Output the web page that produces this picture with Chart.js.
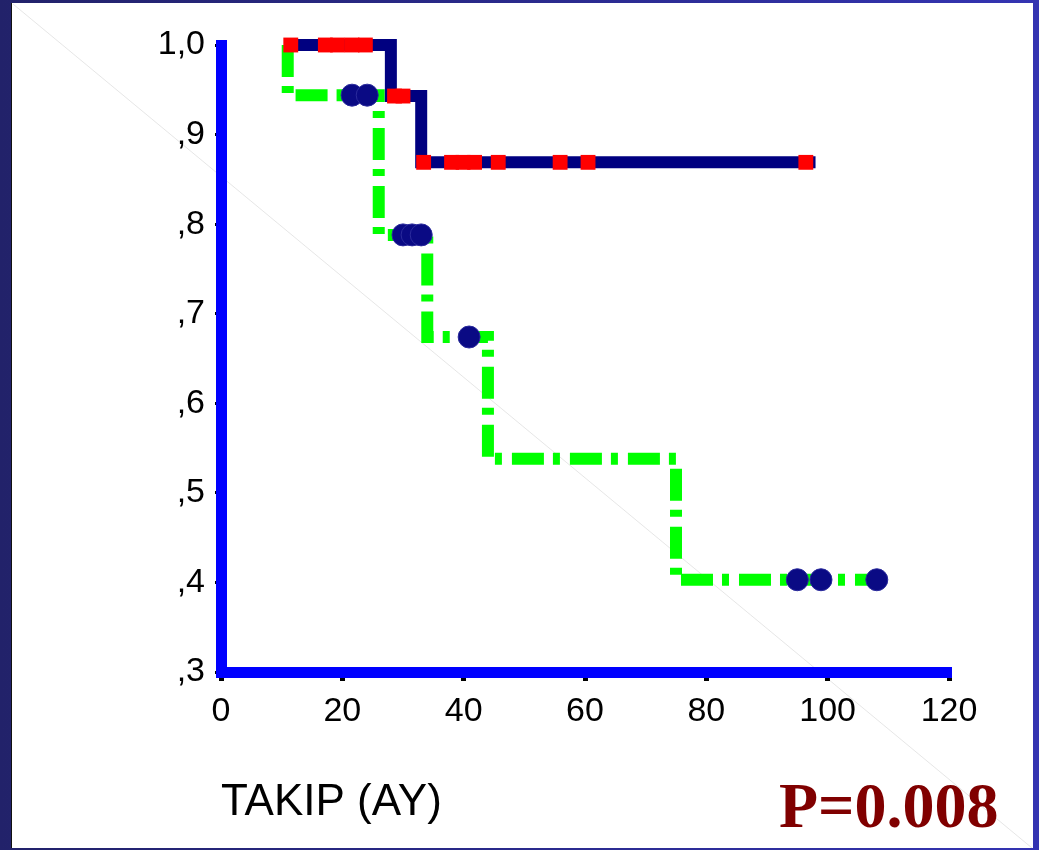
<!DOCTYPE html>
<html lang="tr">
<head>
<meta charset="UTF-8">
<title>Takip (Ay)</title>
<script src="https://cdn.jsdelivr.net/npm/chart.js"></script>
<style>
    body {
        margin: 0;
        width: 1039px;
        height: 850px;
        overflow: hidden;
        background: linear-gradient(to right, #22226a, #2a2a8c 50%, #3434b2);
    }
    .panel {
        position: absolute;
        left: 11px;
        top: 3px;
        width: 1021px;
        height: 845px;
        background: #ffffff;
        border-left: 1px solid #111;
    }
    canvas {
        position: absolute;
        left: 0;
        top: 0;
    }
</style>
</head>
<body>
<div class="panel"></div>
<canvas id="kmCanvas" width="1039" height="850"></canvas>

<script>
    // grup 1 (lacivert çizgi, kırmızı kare = sansürlü)
    const g1Times = [11, 28, 33, 98];
    const g1Surv = [1.0, 0.943, 0.869, 0.869];
    const g1CensTimes = [11.5, 17.2, 19.2, 21.6, 23.8, 28.6, 30.0, 33.4, 38.0, 39.9, 41.8, 45.7, 55.9, 60.5, 96.4];
    const g1CensSurv = [1.0, 1.0, 1.0, 1.0, 1.0, 0.943, 0.943, 0.869, 0.869, 0.869, 0.869, 0.869, 0.869, 0.869, 0.869];

    // grup 2 (yeşil kesikli çizgi, lacivert daire = sansürlü)
    const g2Times = [11, 11, 26, 34, 44, 75, 108];
    const g2Surv = [1.0, 0.944, 0.788, 0.674, 0.538, 0.403, 0.403];
    const g2CensTimes = [21.6, 24.1, 30.0, 31.5, 33.0, 40.9, 95.0, 98.9, 108.1];
    const g2CensSurv = [0.944, 0.944, 0.788, 0.788, 0.788, 0.674, 0.403, 0.403, 0.403];

    const xTickLabels = ["0", "20", "40", "60", "80", "100", "120"];
    const yTickLabels = [",3", ",4", ",5", ",6", ",7", ",8", ",9", "1,0"];
    const xAxisTitle = "TAKIP (AY)";
    const pValueText = "P=0.008";

    const ctx = document.getElementById("kmCanvas").getContext("2d");
    const sansFont = "'Liberation Sans', Arial, sans-serif";

    function toPoints(xs, ys) {
        return xs.map((x, i) => ({ x: x, y: ys[i] }));
    }

    const extras = {
        id: "extras",
        beforeDraw(chart) {
            const c = chart.ctx;
            c.save();
            c.strokeStyle = "rgba(200,200,200,0.45)";
            c.lineWidth = 1;
            c.beginPath();
            c.moveTo(13, 4);
            c.lineTo(1032, 848);
            c.stroke();
            c.restore();
        },
        afterDraw(chart) {
            const c = chart.ctx;
            c.save();
            c.fillStyle = "#800000";
            c.font = "bold 64px 'Liberation Serif', 'Times New Roman', serif";
            c.textAlign = "left";
            c.textBaseline = "alphabetic";
            c.fillText(pValueText, 779, 827);
            c.restore();
        }
    };

    new Chart(ctx, {
        type: "scatter",
        data: {
            datasets: [
                {
                    label: "Grup 2",
                    data: toPoints(g2Times, g2Surv),
                    showLine: true,
                    stepped: true,
                    borderColor: "#00ff00",
                    borderWidth: 12,
                    borderDash: [32, 9, 7, 10],
                    borderCapStyle: "butt",
                    borderJoinStyle: "miter",
                    pointRadius: 0,
                    clip: false,
                    order: 4
                },
                {
                    label: "Grup 1",
                    data: toPoints(g1Times, g1Surv),
                    showLine: true,
                    stepped: true,
                    borderColor: "#000080",
                    borderWidth: 12,
                    borderJoinStyle: "miter",
                    pointRadius: 0,
                    clip: false,
                    order: 3
                },
                {
                    label: "Grup 2 sansürlü",
                    data: toPoints(g2CensTimes, g2CensSurv),
                    showLine: false,
                    pointStyle: "circle",
                    pointRadius: 11,
                    backgroundColor: "#0a0a84",
                    borderColor: "#2a2a9c",
                    borderWidth: 1,
                    clip: false,
                    order: 2
                },
                {
                    label: "Grup 1 sansürlü",
                    data: toPoints(g1CensTimes, g1CensSurv),
                    showLine: false,
                    pointStyle: "rect",
                    pointRadius: 10.5,
                    backgroundColor: "#ff0000",
                    borderWidth: 0,
                    clip: false,
                    order: 1
                }
            ]
        },
        options: {
            responsive: false,
            animation: false,
            events: [],
            layout: { padding: { left: 0, right: 90, top: 45, bottom: 0 } },
            plugins: {
                legend: { display: false },
                tooltip: { enabled: false }
            },
            scales: {
                x: {
                    type: "linear",
                    min: 0,
                    max: 120,
                    ticks: {
                        stepSize: 20,
                        autoSkip: false,
                        maxRotation: 0,
                        padding: 10,
                        color: "#000",
                        font: { family: sansFont, size: 34 },
                        callback: (v, i) => xTickLabels[i]
                    },
                    grid: { drawOnChartArea: false, color: "#000", lineWidth: 5, tickLength: 9 },
                    border: { color: "#0000ff", width: 11 },
                    title: {
                        display: true,
                        text: xAxisTitle,
                        align: "start",
                        color: "#000",
                        font: { family: sansFont, size: 44 },
                        padding: { top: 0, bottom: 21 }
                    },
                    afterFit(scale) { scale.height = 178; }
                },
                y: {
                    min: 0.3,
                    max: 1.0,
                    ticks: {
                        stepSize: 0.1,
                        padding: 10,
                        color: "#000",
                        font: { family: sansFont, size: 34 },
                        callback: (v, i) => yTickLabels[i]
                    },
                    grid: { drawOnChartArea: false, color: "#000", lineWidth: 3, tickLength: 6 },
                    border: { color: "#0000ff", width: 11 },
                    afterFit(scale) { scale.width = 221; }
                }
            }
        },
        plugins: [extras]
    });
</script>
</body>
</html>
